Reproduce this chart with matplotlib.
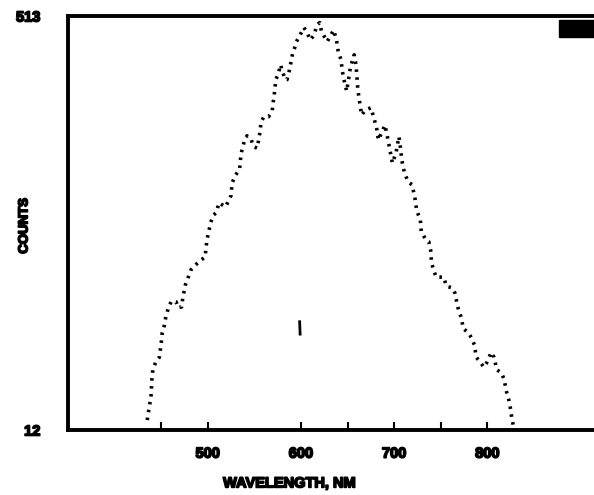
import numpy as np
import matplotlib
matplotlib.use('Agg')
from matplotlib import pyplot as plt
from matplotlib.patches import Rectangle
import matplotlib.patheffects as pe

# spectrum
wavelength = [435, 437, 439, 440, 441, 444, 448, 450, 451, 453, 455, 458, 461, 466, 468,
              472, 473, 476, 479, 482, 487, 493, 497, 498, 499, 501, 503, 506, 509, 512,
              519, 525, 526, 530, 534, 535, 536, 539, 542, 546, 549, 553, 556, 557, 560,
              565, 569, 570, 571, 572, 573, 576, 578, 579, 583, 585, 587, 589, 591, 593,
              595, 599, 603, 606, 610, 614, 617, 620, 622, 628, 632, 635, 638, 640, 643,
              644, 646, 649, 653, 657, 659, 660, 661, 663, 665, 669, 675, 678, 681, 683,
              690, 692, 694, 696, 698, 702, 705, 707, 708, 711, 715, 719, 722, 724, 728,
              729, 734, 737, 739, 740, 742, 745, 753, 756, 762, 765, 767, 769, 772, 774,
              780, 783, 786, 788, 793, 796, 799, 804, 807, 810, 815, 818, 820, 823, 825,
              826, 828]
counts = [24, 39, 52, 73, 85, 94, 100, 117, 129, 137, 149, 161, 168, 167, 160,
          161, 171, 188, 197, 206, 212, 218, 221, 232, 242, 252, 263, 272, 275, 287,
          282, 296, 311, 321, 327, 339, 348, 361, 368, 365, 355, 353, 373, 384, 391,
          391, 397, 408, 415, 426, 436, 445, 454, 450, 436, 436, 445, 456, 468, 474,
          482, 490, 499, 494, 484, 490, 502, 505, 494, 482, 490, 496, 484, 469, 460,
          448, 436, 422, 451, 466, 454, 439, 423, 408, 393, 399, 402, 390, 378, 363,
          381, 371, 359, 347, 335, 348, 367, 351, 339, 323, 312, 309, 294, 278, 266,
          252, 242, 240, 230, 215, 206, 197, 197, 186, 184, 178, 167, 157, 148, 135,
          129, 123, 115, 100, 93, 88, 93, 106, 100, 85, 81, 73, 60, 48, 36,
          27, 16]

# stray mark in the scan
stray_x = [598.5, 599]
stray_y = [143, 128]

x_ticks = [450, 500, 600, 650, 700, 750, 800]
x_labels = ['', '500', '600', '', '700', '', '800']
y_ticks = [12, 513]
y_labels = ['12', '513']

plt.rcParams['font.family'] = ['Liberation Sans', 'DejaVu Sans']

fig = plt.figure(figsize=(5.94, 4.95), dpi=100)
ax = fig.add_axes([0.1145, 0.1313, 1.02, 0.8364])

ax.plot(wavelength, counts, color='black', linestyle=(0, (0.7, 1.5)), linewidth=2.6,
        dash_capstyle='butt')
ax.plot(stray_x, stray_y, color='black', linewidth=2)

ax.set_xlim(350, 1000)
ax.set_ylim(12, 513)

# scanned text looks bloated, thicken it a bit
thick = [pe.withStroke(linewidth=1.2, foreground='black')]

ax.set_xticks(x_ticks)
ax.set_xticklabels(x_labels, fontweight='bold', fontsize=10.5, path_effects=thick)
ax.set_yticks(y_ticks)
ax.set_yticklabels(y_labels, fontweight='bold', fontsize=10.5, path_effects=thick)
ax.tick_params(axis='x', direction='in', length=6, width=1.5, pad=12)
ax.tick_params(axis='y', length=0, pad=20)

for s in ax.spines.values():
    s.set_linewidth(2.8)

ax.set_xlabel('WAVELENGTH, NM', fontweight='bold', fontsize=10.5, path_effects=thick)
ax.xaxis.set_label_coords(0.366, -0.112)
ax.set_ylabel('COUNTS', fontweight='bold', fontsize=9.5, path_effects=thick)
ax.yaxis.set_label_coords(-0.062, 0.493)

# legend box, cut off at the right edge
ax.add_patch(Rectangle((0.81, 0.949), 0.1, 0.041, transform=ax.transAxes,
                       facecolor='black', edgecolor='black', clip_on=False))

fig.savefig('out.png', dpi=100)
